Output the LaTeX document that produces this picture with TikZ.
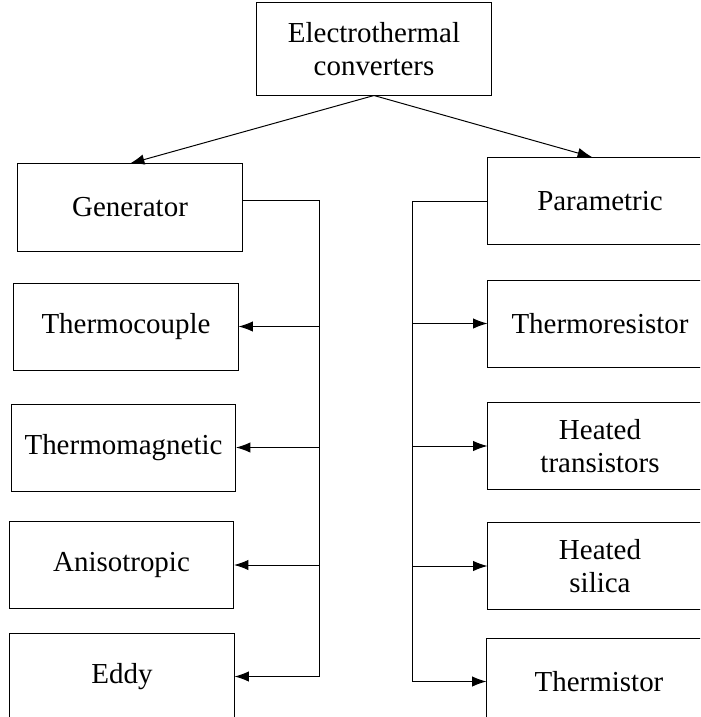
\documentclass[tikz,border=0pt]{standalone}
\usepackage{fontspec}
\setmainfont{Liberation Serif}
\usetikzlibrary{arrows.meta}

\begin{document}
\begin{tikzpicture}[x=0.025cm, y=-0.025cm, line width=0.7pt,
    box/.style={draw, minimum width=5.6cm, minimum height=2.175cm, align=center,
        font=\fontsize{20.6}{23.5}\selectfont, inner sep=0pt},
    arr/.style={-{Latex[length=3.6mm, width=2.6mm]}}]
    \useasboundingbox (0, 0) rectangle (700, 717);
    \clip (0, 0) rectangle (700, 717);

    \node[box, minimum width=5.85cm, minimum height=2.3cm] (conv) at (374, 49) {Electrothermal\\converters};

    \node[box] (gen) at (130, 207.5) {Generator};
    \node[box] (tcouple) at (126, 326.5) {Thermocouple};
    \node[box] (tmag) at (123.5, 447.5) {Thermomagnetic};
    \node[box] (aniso) at (121.5, 565) {Anisotropic};
    \node[box] (eddy) at (122, 676.5) {Eddy};

    \node[box] (param) at (600, 201) {Parametric};
    \node[box] (tres) at (600, 323.5) {Thermoresistor};
    \node[box] (htrans) at (600, 446) {Heated\\transistors};
    \node[box] (hsil) at (600, 566) {Heated\\silica};
    \node[box] (tmistor) at (599, 681.5) {Thermistor};

    \draw[arr] (conv.south) -- (gen.north);
    \draw[arr] (conv.south) -- ([xshift=-0.2cm]param.north);

    \coordinate (lbus) at (319, 200);
    \coordinate (rbus) at (412, 201);

    \draw (gen.east |- lbus) -- (lbus) -- (lbus |- eddy.east);
    \draw[arr] (lbus |- tcouple.east) -- (tcouple.east);
    \draw[arr] (lbus |- tmag.east) -- (tmag.east);
    \draw[arr] (lbus |- aniso.east) -- (aniso.east);
    \draw[arr] (lbus |- eddy.east) -- (eddy.east);

    \draw (param.west |- rbus) -- (rbus) -- (rbus |- tmistor.west);
    \draw[arr] (rbus |- tres.west) -- (tres.west);
    \draw[arr] (rbus |- htrans.west) -- (htrans.west);
    \draw[arr] (rbus |- hsil.west) -- (hsil.west);
    \draw[arr] (rbus |- tmistor.west) -- (tmistor.west);
\end{tikzpicture}
\end{document}
